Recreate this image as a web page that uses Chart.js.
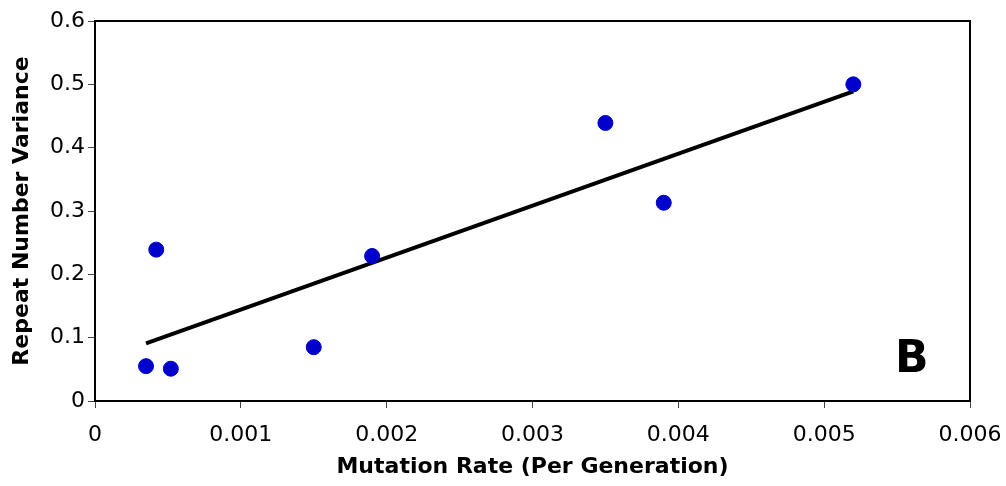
<!DOCTYPE html>
<html>
<head>
<meta charset="utf-8">
<script src="https://cdn.jsdelivr.net/npm/chart.js@4"></script>
<style>
  html, body { margin: 0; padding: 0; background: #fff; }
  #wrap { width: 1006px; height: 486px; position: relative; }
</style>
</head>
<body>
<div id="wrap"><canvas id="mutationChart"></canvas></div>
<script>
// observed loci
const mutationRate = [0.00035, 0.00052, 0.00042, 0.0015, 0.0019, 0.0035, 0.0039, 0.0052];
const repeatVariance = [0.055, 0.051, 0.239, 0.085, 0.229, 0.439, 0.313, 0.5];

// fitted trend line end points
const trendX = [0.00035, 0.0052];
const trendY = [0.091, 0.489];

const xTicks = [0, 0.001, 0.002, 0.003, 0.004, 0.005, 0.006];
const yTicks = [0, 0.1, 0.2, 0.3, 0.4, 0.5, 0.6];

const panelLabel = 'B';

const plotFrame = {
    id: 'plotFrame',
    afterDraw(chart) {
        const { ctx, chartArea: a, scales } = chart;
        ctx.save();
        ctx.strokeStyle = '#000';
        ctx.lineWidth = 2;
        ctx.strokeRect(a.left, a.top, a.right - a.left, a.bottom - a.top);
        ctx.fillStyle = '#000';
        ctx.font = 'bold 44px "DejaVu Sans"';
        ctx.textAlign = 'center';
        ctx.textBaseline = 'middle';
        ctx.fillText(panelLabel, scales.x.getPixelForValue(0.0056), scales.y.getPixelForValue(0.064));
        ctx.restore();
    }
};

Chart.defaults.font.family = '"DejaVu Sans", Verdana, sans-serif';
Chart.defaults.color = '#000';

const ctx = document.getElementById('mutationChart').getContext('2d');
new Chart(ctx, {
    type: 'scatter',
    data: {
        datasets: [{
            label: 'Loci',
            data: mutationRate.map((x, i) => ({ x: x, y: repeatVariance[i] })),
            backgroundColor: '#0000CC',
            borderColor: '#0000CC',
            pointRadius: 7.5,
            pointHoverRadius: 7.5,
            order: 1
        }, {
            label: 'Trend',
            type: 'line',
            data: trendX.map((x, i) => ({ x: x, y: trendY[i] })),
            borderColor: '#000',
            borderWidth: 4,
            pointRadius: 0,
            fill: false,
            order: 2
        }]
    },
    options: {
        responsive: true,
        maintainAspectRatio: false,
        animation: false,
        layout: { padding: { top: 21, right: 36, left: 0, bottom: 0 } },
        plugins: {
            legend: { display: false },
            tooltip: { enabled: false }
        },
        scales: {
            x: {
                type: 'linear',
                min: 0,
                max: 0.006,
                afterBuildTicks: s => { s.ticks = xTicks.map(v => ({ value: v })); },
                afterFit: s => { s.height = 85; s.paddingLeft = 0; s.paddingRight = 0; },
                grid: { drawOnChartArea: false, color: '#444', tickLength: 7, lineWidth: 1 },
                border: { color: '#000', width: 2 },
                ticks: {
                    font: { size: 22 },
                    padding: 14,
                    maxRotation: 0,
                    callback: v => String(v)
                },
                title: {
                    display: true,
                    text: 'Mutation Rate (Per Generation)',
                    font: { size: 22, weight: 'bold' },
                    padding: { top: 4, bottom: 6 }
                }
            },
            y: {
                min: 0,
                max: 0.6,
                afterBuildTicks: s => { s.ticks = yTicks.map(v => ({ value: v })); },
                afterFit: s => { s.width = 95; },
                grid: { drawOnChartArea: false, color: '#444', tickLength: 7, lineWidth: 1 },
                border: { color: '#000', width: 2 },
                ticks: {
                    font: { size: 22 },
                    padding: 3,
                    callback: v => String(v)
                },
                title: {
                    display: true,
                    text: 'Repeat Number Variance',
                    font: { size: 22, weight: 'bold' },
                    padding: { top: 9, bottom: 4 }
                }
            }
        }
    },
    plugins: [plotFrame]
});
</script>
</body>
</html>
